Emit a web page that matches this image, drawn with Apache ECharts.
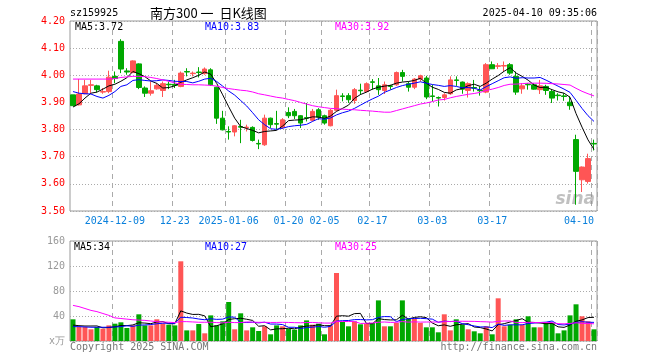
<!DOCTYPE html>
<html><head><meta charset="utf-8">
<script src="https://cdn.jsdelivr.net/npm/echarts/dist/echarts.min.js"></script>
<style>html,body{margin:0;padding:0;background:#fff;}#c{width:660px;height:360px;}</style>
</head><body><div id="c"></div>
<script>
const dates = ['2024-11-28','2024-11-29','2024-12-02','2024-12-03','2024-12-04','2024-12-05','2024-12-06','2024-12-09','2024-12-10','2024-12-11','2024-12-12','2024-12-13','2024-12-16','2024-12-17','2024-12-18','2024-12-19','2024-12-20','2024-12-23','2024-12-24','2024-12-25','2024-12-26','2024-12-27','2024-12-30','2024-12-31','2025-01-02','2025-01-03','2025-01-06','2025-01-07','2025-01-08','2025-01-09','2025-01-10','2025-01-13','2025-01-14','2025-01-15','2025-01-16','2025-01-17','2025-01-20','2025-01-21','2025-01-22','2025-01-23','2025-01-24','2025-01-27','2025-02-05','2025-02-06','2025-02-07','2025-02-10','2025-02-11','2025-02-12','2025-02-13','2025-02-14','2025-02-17','2025-02-18','2025-02-19','2025-02-20','2025-02-21','2025-02-24','2025-02-25','2025-02-26','2025-02-27','2025-02-28','2025-03-03','2025-03-04','2025-03-05','2025-03-06','2025-03-07','2025-03-10','2025-03-11','2025-03-12','2025-03-13','2025-03-14','2025-03-17','2025-03-18','2025-03-19','2025-03-20','2025-03-21','2025-03-24','2025-03-25','2025-03-26','2025-03-27','2025-03-28','2025-03-31','2025-04-01','2025-04-02','2025-04-03','2025-04-07','2025-04-08','2025-04-09','2025-04-10'];

const openP  = [3.928,3.891,3.932,3.963,3.961,3.938,3.940,3.996,4.125,4.016,4.010,4.042,3.953,3.934,3.950,3.944,3.967,3.967,3.959,4.014,4.006,4.012,4.006,4.020,3.956,3.842,3.793,3.791,3.811,3.807,3.808,3.749,3.744,3.842,3.822,3.809,3.863,3.867,3.851,3.844,3.834,3.873,3.851,3.814,3.871,3.924,3.925,3.907,3.945,3.940,3.976,3.961,3.944,3.961,3.965,4.010,3.969,3.956,3.986,3.990,3.924,3.918,3.918,3.932,3.983,3.975,3.944,3.955,3.945,3.938,4.039,4.033,4.034,4.039,3.996,3.950,3.967,3.965,3.947,3.959,3.940,3.927,3.924,3.901,3.763,3.615,3.609,3.749];
const closeP = [3.888,3.931,3.961,3.965,3.947,3.940,3.993,3.988,4.023,4.012,4.053,3.955,3.934,3.943,3.963,3.969,3.965,3.963,4.008,4.012,4.008,4.010,4.023,3.965,3.842,3.799,3.791,3.814,3.809,3.809,3.760,3.747,3.842,3.818,3.820,3.836,3.851,3.851,3.824,3.842,3.867,3.846,3.824,3.871,3.925,3.922,3.910,3.947,3.943,3.969,3.974,3.947,3.965,3.959,4.010,3.996,3.956,3.986,3.998,3.920,3.922,3.916,3.928,3.983,3.981,3.949,3.969,3.953,3.943,4.039,4.024,4.035,4.036,4.008,3.938,3.961,3.965,3.949,3.961,3.944,3.916,3.925,3.922,3.888,3.646,3.662,3.693,3.747];
const lowP   = [3.888,3.889,3.930,3.934,3.937,3.932,3.934,3.971,4.008,4.002,4.008,3.949,3.920,3.925,3.947,3.920,3.949,3.953,3.956,3.996,3.996,3.992,4.002,3.961,3.821,3.797,3.763,3.775,3.750,3.793,3.756,3.728,3.740,3.806,3.799,3.802,3.842,3.839,3.806,3.830,3.830,3.836,3.818,3.812,3.867,3.904,3.898,3.895,3.928,3.937,3.947,3.928,3.931,3.947,3.961,3.977,3.940,3.949,3.977,3.912,3.904,3.885,3.907,3.928,3.961,3.932,3.918,3.940,3.925,3.934,4.023,4.023,4.014,4.002,3.928,3.932,3.947,3.947,3.931,3.928,3.898,3.907,3.906,3.873,3.523,3.570,3.601,3.723];
const highP  = [3.928,3.986,3.983,3.983,3.965,3.953,4.017,4.014,4.133,4.026,4.055,4.044,3.959,3.977,3.971,3.977,3.977,3.983,4.014,4.026,4.014,4.030,4.029,4.026,3.958,3.869,3.812,3.816,3.836,3.818,3.812,3.763,3.855,3.844,3.869,3.842,3.882,3.876,3.853,3.898,3.876,3.879,3.855,3.876,3.947,3.934,3.934,3.953,3.969,3.974,3.986,3.990,3.977,3.965,4.014,4.020,3.977,3.990,4.002,3.998,3.965,3.922,3.934,3.996,3.996,3.977,3.974,3.983,3.959,4.045,4.051,4.045,4.051,4.045,4.014,3.971,3.971,3.971,3.983,3.965,3.947,3.934,3.934,3.922,3.781,3.664,3.711,3.763];

const ma5  = [3.883,3.895,3.916,3.934,3.938,3.949,3.961,3.967,3.978,3.991,4.014,4.006,3.995,3.979,3.970,3.953,3.955,3.961,3.974,3.983,3.991,4.000,4.012,4.004,3.970,3.928,3.884,3.842,3.811,3.804,3.797,3.788,3.793,3.795,3.797,3.813,3.833,3.835,3.836,3.841,3.847,3.846,3.841,3.850,3.867,3.878,3.890,3.915,3.929,3.938,3.949,3.956,3.960,3.963,3.971,3.975,3.977,3.981,3.989,3.971,3.956,3.948,3.937,3.934,3.946,3.951,3.962,3.967,3.959,3.971,3.986,3.999,4.015,4.028,4.008,3.996,3.982,3.964,3.955,3.956,3.947,3.939,3.934,3.919,3.859,3.809,3.762,3.727];
const ma10 = [3.940,3.934,3.932,3.931,3.922,3.916,3.926,3.940,3.959,3.965,3.981,3.984,3.981,3.979,3.980,3.983,3.981,3.978,3.977,3.977,3.972,3.978,3.986,3.989,3.977,3.960,3.942,3.927,3.907,3.887,3.862,3.836,3.818,3.803,3.801,3.805,3.811,3.814,3.816,3.819,3.830,3.840,3.838,3.843,3.854,3.862,3.868,3.878,3.890,3.902,3.913,3.923,3.937,3.946,3.955,3.962,3.967,3.971,3.976,3.971,3.966,3.963,3.959,3.962,3.959,3.954,3.955,3.952,3.946,3.958,3.969,3.980,3.991,3.994,3.989,3.991,3.990,3.990,3.992,3.982,3.971,3.960,3.949,3.937,3.908,3.878,3.851,3.830];
const ma30 = [3.986,3.986,3.986,3.986,3.986,3.986,3.986,3.988,3.992,3.994,3.996,3.996,3.995,3.992,3.988,3.983,3.978,3.972,3.967,3.966,3.965,3.965,3.964,3.963,3.960,3.955,3.951,3.948,3.945,3.943,3.9385,3.932,3.928,3.9235,3.919,3.916,3.911,3.9065,3.900,3.894,3.888,3.884,3.881,3.878,3.877,3.875,3.874,3.873,3.871,3.8695,3.868,3.866,3.864,3.864,3.870,3.876,3.882,3.888,3.894,3.898,3.903,3.909,3.911,3.917,3.922,3.926,3.930,3.933,3.937,3.944,3.949,3.955,3.9625,3.967,3.9675,3.969,3.971,3.971,3.971,3.9705,3.969,3.968,3.966,3.964,3.952,3.941,3.932,3.924];

const volume = [34.7,22.4,22.4,18.7,22.4,19.7,25,27.7,29.9,20.8,25,42.7,25,25,34.7,27.7,26.1,25,127.5,17,17,27.2,12.3,41,25,31.5,62.4,18.7,44.3,17,21.9,16,23.5,10.7,25,23.5,19.7,18.1,25,33,26.1,27.7,10.7,25,108.8,30.4,23.5,31.5,26.7,27.7,28.8,65,23.5,23.5,28.8,65,35.7,35.7,28.8,21.9,21.9,13.9,42.7,17,34.7,26.1,18.7,15.5,12.3,23.5,10.7,68.3,23.5,26.1,34.7,26.1,39.5,21.9,21.9,28.8,28.8,12.3,17,41,58.7,39.5,31.5,18.7];
const volMa5  = [25.5,24.5,24,24,24.1,21.1,21.6,22.7,24.9,24.6,25.7,29.2,28.7,27.7,30.5,31.0,27.7,27.7,48.2,44.7,42.5,42.7,40.2,22.9,24.5,27.4,34.4,35.7,36.4,34.8,32.9,23.6,24.5,17.8,19.4,19.7,20.5,19.4,22.3,23.9,24.4,26.0,24.5,24.5,39.7,40.5,39.7,43.8,44.2,28.0,27.6,35.9,34.3,33.7,33.9,41.2,35.3,37.7,38.8,37.4,28.8,24.4,25.8,23.5,26.0,26.9,27.8,22.4,21.5,19.2,16.1,26.1,27.7,30.4,32.7,35.7,30.0,29.7,28.8,27.6,28.2,22.7,21.8,25.6,31.6,33.7,37.5,37.9];
const volMa10 = [23,23,22.5,22,22,22,22,22.5,23,24.4,23.4,25.4,25.7,26.3,27.6,28.4,28.5,28.2,38.0,37.6,36.8,35.2,34.0,35.6,34.6,35.0,38.6,38.0,29.6,29.6,30.1,29.0,30.1,27.1,27.1,26.3,22.0,22.0,20.0,21.6,22.1,23.2,22.0,23.4,31.8,32.5,32.8,34.2,34.3,33.8,34.1,37.8,39.1,38.9,30.9,34.4,35.6,36.0,36.3,35.7,35.0,29.9,31.8,31.1,31.7,27.8,26.1,24.1,22.5,22.6,21.5,27.0,25.0,25.9,25.9,25.9,28.0,28.7,29.6,30.2,32.0,26.4,25.7,27.2,29.6,30.9,30.1,29.8];
const volMa30 = [57,55,52,49,47,44,41,37,36,35,34,33.5,33,32,31,30.5,30,29.5,31,31,30.5,30,30,30,29.5,29,30,29.5,29.5,30.5,30.1,29.9,29.9,29.7,29.7,29.9,29.7,29.4,29.2,29.6,29.7,29.2,28.7,28.7,31.1,31.2,31.2,31.4,28.0,28.4,28.8,30.0,30.4,29.8,29.9,31.1,30.2,30.7,30.2,30.4,30.4,30.3,30.9,31.2,31.5,31.6,31.5,31.4,31.0,30.7,30.2,31.5,32.0,32.0,29.5,29.4,29.9,29.6,29.4,29.5,29.5,27.7,27.5,28.1,29.1,28.2,28.1,27.5];

const tickDates  = ['2024-12-09','2024-12-23','2025-01-06','2025-01-20','2025-02-05','2025-02-17','2025-03-03','2025-03-17','2025-04-10'];
const tickLabels = ['2024-12-09','12-23','2025-01-06','01-20','02-05','02-17','03-03','03-17','04-10'];
const priceTicks = [3.5, 4.2, 0.1];
const volTicks = [0, 160, 40];

const UP = '#ff5555', DOWN = '#00a800';
const MONO = '"DejaVu Sans Mono", "Liberation Mono", monospace';
const isTick = (i, v) => tickDates.indexOf(dates[i]) >= 0;

const kData = dates.map((d, i) => [openP[i], closeP[i], lowP[i], highP[i]]);
const volData = volume.map((v, i) => ({ value: v, itemStyle: { color: closeP[i] >= openP[i] ? UP : DOWN } }));

const chart = echarts.init(document.getElementById('c'));
const vSplit = { show: true, interval: isTick, lineStyle: { color: '#aaaaaa', type: [5, 4], width: 1 } };
const hSplit = { show: true, lineStyle: { color: '#aaaaaa', type: [1, 2], width: 1 } };
const lineS = (name, data, color, xi, yi) => ({ name, type: 'line', data, xAxisIndex: xi, yAxisIndex: yi, showSymbol: false, symbol: 'none', lineStyle: { color, width: 1 }, itemStyle: { color }, z: 5, silent: true });
const txt = (text, x, y, fill, font, align) => ({ type: 'text', x, y, z: 100, style: { text, fill, font, textAlign: align || 'left', textVerticalAlign: 'middle' } });

chart.setOption({
  animation: false,
  backgroundColor: '#ffffff',
  grid: [
    { left: 70, top: 21, width: 527, height: 190, show: true, borderColor: '#999999', borderWidth: 1, backgroundColor: 'transparent' },
    { left: 70, top: 241, width: 527, height: 100, show: true, borderColor: '#999999', borderWidth: 1, backgroundColor: 'transparent' }
  ],
  xAxis: [
    { type: 'category', gridIndex: 0, data: dates, boundaryGap: true,
      axisLine: { show: false }, axisTick: { show: false }, splitLine: vSplit,
      axisLabel: { interval: isTick, margin: 5, color: '#0a80dc', fontFamily: MONO, fontSize: 10, alignMaxLabel: 'right',
        formatter: v => tickLabels[tickDates.indexOf(v)] || '' } },
    { type: 'category', gridIndex: 1, data: dates, boundaryGap: true,
      axisLine: { show: false }, axisTick: { show: false }, splitLine: vSplit, axisLabel: { show: false } }
  ],
  yAxis: [
    { type: 'value', gridIndex: 0, min: priceTicks[0], max: priceTicks[1], interval: priceTicks[2], scale: true,
      axisLine: { show: false }, axisTick: { show: false }, splitLine: hSplit,
      axisLabel: { color: '#ff0000', fontFamily: MONO, fontSize: 10, margin: 5, formatter: v => v.toFixed(2) } },
    { type: 'value', gridIndex: 1, min: volTicks[0], max: volTicks[1], interval: volTicks[2],
      axisLine: { show: false }, axisTick: { show: false }, splitLine: hSplit,
      axisLabel: { color: '#999999', fontFamily: MONO, fontSize: 10, margin: 5, formatter: v => v === 0 ? 'x万' : String(v) } }
  ],
  series: [
    { name: 'K', type: 'candlestick', data: kData, xAxisIndex: 0, yAxisIndex: 0, barWidth: 5,
      itemStyle: { color: UP, color0: DOWN, borderColor: UP, borderColor0: DOWN, borderWidth: 1 }, z: 3 },
    lineS('MA5', ma5, '#000000', 0, 0),
    lineS('MA10', ma10, '#0000ff', 0, 0),
    lineS('MA30', ma30, '#ff00ff', 0, 0),
    { name: 'VOL', type: 'bar', data: volData, xAxisIndex: 1, yAxisIndex: 1, barWidth: 5, z: 3 },
    lineS('VMA5', volMa5, '#000000', 1, 1),
    lineS('VMA10', volMa10, '#0000ff', 1, 1),
    lineS('VMA30', volMa30, '#ff00ff', 1, 1)
  ],
  graphic: [
    txt('sz159925', 70, 13, '#000000', '10px ' + MONO),
    txt('南方300 一  日K线图', 150, 13, '#000000', '13px "Noto Sans CJK SC"'),
    txt('2025-04-10 09:35:06', 597, 13, '#000000', '10px ' + MONO, 'right'),
    txt('MA5:3.72', 75, 27, '#000000', '10px ' + MONO),
    txt('MA10:3.83', 205, 27, '#0000ff', '10px ' + MONO),
    txt('MA30:3.92', 335, 27, '#ff00ff', '10px ' + MONO),
    txt('MA5:34', 74, 247, '#000000', '10px ' + MONO),
    txt('MA10:27', 205, 247, '#0000ff', '10px ' + MONO),
    txt('MA30:25', 335, 247, '#ff00ff', '10px ' + MONO),
    txt('Copyright 2025 SINA.COM', 70, 347, '#777777', '10px ' + MONO),
    txt('http://finance.sina.com.cn', 597, 347, '#777777', '10px ' + MONO, 'right'),
    { type: 'text', x: 595, y: 200, z: 1, style: { text: 'sina', fill: 'rgba(140,140,140,0.55)', font: 'italic bold 17px "DejaVu Sans"', textAlign: 'right', textVerticalAlign: 'middle' } }
  ]
});
</script></body></html>
